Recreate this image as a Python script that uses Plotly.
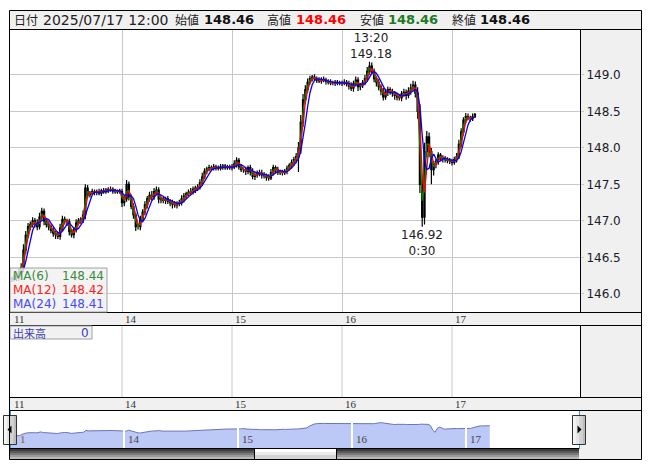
import plotly.graph_objects as go
import pandas as pd

W, H = 653, 470

# ---------------- data (30-minute candles) ----------------
DAY_LABELS = ["11", "14", "15", "16", "17"]
C11 = [146.20, 146.25, 146.22, 146.30, 146.36, 146.60, 146.80, 146.92, 146.95, 147.00, 146.97, 146.92,
       147.05, 147.13, 147.00, 146.95, 146.92, 146.87, 146.83, 146.81, 146.79, 146.90, 147.02, 147.00,
       146.99, 146.85, 146.81, 146.88, 146.97, 147.00, 147.02, 147.08, 147.45, 147.36, 147.38, 147.40,
       147.39, 147.40, 147.38, 147.41, 147.40, 147.42, 147.43, 147.43, 147.41, 147.40, 147.41, 147.40]
C14 = [147.25, 147.30, 147.50, 147.33, 147.20, 147.08, 146.92, 146.92, 147.02, 147.12, 147.22, 147.30,
       147.35, 147.33, 147.40, 147.42, 147.30, 147.29, 147.28, 147.30, 147.27, 147.25, 147.23, 147.22,
       147.24, 147.25, 147.30, 147.34, 147.37, 147.39, 147.40, 147.43, 147.45, 147.46, 147.52, 147.60,
       147.68, 147.71, 147.73, 147.72, 147.74, 147.73, 147.72, 147.74, 147.75, 147.73, 147.74, 147.73]
C15 = [147.74, 147.78, 147.83, 147.74, 147.70, 147.70, 147.68, 147.73, 147.67, 147.61, 147.63, 147.66,
       147.65, 147.63, 147.62, 147.60, 147.59, 147.66, 147.73, 147.70, 147.67, 147.66, 147.66, 147.68,
       147.72, 147.76, 147.80, 147.84, 147.88, 148.00, 148.35, 148.66, 148.80, 148.90, 148.95, 148.97,
       148.95, 148.93, 148.92, 148.94, 148.93, 148.91, 148.90, 148.89, 148.89, 148.90, 148.89, 148.89]
C16 = [148.89, 148.90, 148.88, 148.85, 148.82, 148.88, 148.93, 148.84, 148.86, 148.89, 148.95, 149.05,
       149.12, 149.05, 148.95, 148.90, 148.84, 148.78, 148.70, 148.76, 148.80, 148.77, 148.75, 148.72,
       148.70, 148.69, 148.74, 148.76, 148.72, 148.78, 148.82, 148.86, 148.75, 148.50, 147.50, 147.05,
       147.95, 148.15, 147.95, 147.70, 147.78, 147.82, 147.90, 147.86, 147.85, 147.84, 147.83, 147.82]
C17 = [147.80, 147.84, 147.88, 148.05, 148.22, 148.38, 148.43, 148.41, 148.40, 148.43, 148.46]

# upper / lower wick lengths in 0.01 (pips)
U11 = [3, 4, 3, 5, 6, 8, 6, 5, 4, 5, 4, 5, 6, 5, 4, 3, 4, 3, 4, 3, 4, 6, 5, 4,
       3, 4, 3, 4, 5, 4, 3, 6, 5, 4, 3, 4, 3, 3, 4, 3, 4, 3, 3, 4, 3, 3, 2, 3]
D11 = [4, 3, 5, 4, 5, 6, 5, 4, 5, 4, 6, 5, 4, 5, 6, 4, 5, 4, 5, 6, 4, 5, 4, 5,
       6, 5, 4, 5, 4, 3, 4, 5, 6, 5, 4, 3, 4, 4, 3, 4, 3, 3, 4, 3, 4, 3, 3, 3]
U14 = [4, 5, 6, 4, 3, 4, 3, 4, 5, 4, 5, 4, 5, 6, 5, 5, 4, 3, 4, 3, 4, 3, 4, 4,
       3, 4, 5, 4, 3, 4, 5, 4, 3, 4, 5, 6, 4, 3, 4, 3, 4, 3, 3, 4, 3, 3, 3, 3]
D14 = [6, 5, 4, 5, 4, 5, 6, 4, 5, 4, 4, 5, 4, 5, 4, 5, 6, 5, 4, 5, 4, 5, 6, 4,
       5, 4, 4, 5, 4, 3, 4, 4, 5, 4, 3, 4, 3, 4, 3, 4, 3, 4, 3, 3, 4, 3, 3, 3]
U15 = [4, 5, 4, 3, 4, 3, 4, 3, 4, 5, 4, 3, 4, 5, 4, 3, 4, 5, 4, 3, 4, 3, 4, 3,
       4, 3, 4, 4, 5, 8, 10, 8, 6, 5, 4, 3, 4, 3, 4, 3, 4, 3, 3, 4, 3, 3, 3, 3]
D15 = [4, 3, 5, 4, 3, 4, 5, 4, 5, 4, 5, 4, 4, 5, 4, 5, 4, 3, 4, 5, 4, 3, 4, 3,
       4, 3, 4, 4, 5, 21, 8, 6, 5, 4, 3, 4, 3, 4, 3, 4, 3, 4, 3, 3, 3, 4, 3, 3]
U16 = [3, 4, 3, 4, 5, 4, 5, 4, 3, 4, 5, 6, 6, 5, 4, 3, 4, 3, 4, 5, 4, 3, 4, 3,
       4, 3, 4, 5, 4, 5, 6, 6, 5, 8, 10, 8, 12, 8, 6, 5, 4, 3, 4, 3, 4, 4, 3, 3]
D16 = [4, 3, 4, 5, 4, 5, 4, 6, 5, 4, 3, 4, 5, 4, 5, 6, 5, 6, 5, 4, 5, 4, 5, 6,
       5, 4, 5, 4, 6, 4, 5, 4, 6, 10, 12, 13, 10, 8, 8, 20, 8, 6, 5, 4, 5, 4, 4, 4]
U17 = [3, 4, 5, 6, 5, 4, 5, 4, 3, 4, 2]
D17 = [4, 3, 4, 3, 4, 5, 4, 3, 4, 3, 2]

CLOSES = [C11, C14, C15, C16, C17]
UPS = [U11, U14, U15, U16, U17]
DNS = [D11, D14, D15, D16, D17]

HEADER_DATE = "2025/07/17 12:00"
HEADER_VALUES = {"始値": "148.46", "高値": "148.46", "安値": "148.46", "終値": "148.46"}
MA_LEGEND = [("MA(6)", "148.44"), ("MA(12)", "148.42"), ("MA(24)", "148.41")]
HIGH_MARK = (3, "13:20", 149.18)   # trading-day index, time, price
LOW_MARK = (3, "0:30", 146.92)
Y_TICKS = [146.0, 146.5, 147.0, 147.5, 148.0, 148.5, 149.0]
VOLUME_LABEL = ("出来高", "0")

DAY_START_HOUR = 7   # each trading day starts at 7:00
CANDLE_H = 0.5

# ---------------- build OHLC ----------------
xs, op, hi, lo, cl = [], [], [], [], []
prev = None
for d, (cc, uu, dd) in enumerate(zip(CLOSES, UPS, DNS)):
    for k, v in enumerate(cc):
        o = v if prev is None else prev
        xs.append(d * 24 + k * CANDLE_H)
        op.append(o)
        cl.append(v)
        hi.append(round(max(o, v) + uu[k] / 100, 2))
        lo.append(round(min(o, v) - dd[k] / 100, 2))
        prev = v

df = pd.DataFrame({"x": xs, "o": op, "h": hi, "l": lo, "c": cl})
mid = (df["o"] + df["c"]) / 2
df["ma6"] = mid.rolling(1, min_periods=1).mean()
df["ma12"] = mid.rolling(2, min_periods=1).mean()
df["ma24"] = mid.rolling(4, min_periods=1).mean()


def time_to_x(day, t):
    hh, mm = [int(s) for s in t.split(":")]
    hrs = hh + mm / 60 - DAY_START_HOUR
    if hrs < 0:
        hrs += 24
    return day * 24 + hrs


# ---------------- pixel geometry ----------------
L, R, RP = 10, 580, 641
TOP, HDR_B, MAIN_B, STR1_B, VOL_B, STR2_B, NAV_B, BOT = 10, 29, 312, 325, 397, 410, 448, 459
PX_PER_H = 110 / 24
X0_PX = 12
NAV_PX_PER_H = 114 / 24
NAV_X0 = 10
NAV_R = 579


def px(x):
    return x / W


def py(y):
    return 1 - y / H


fig = go.Figure()

fig.add_trace(go.Candlestick(
    x=df["x"], open=df["o"], high=df["h"], low=df["l"], close=df["c"],
    increasing=dict(line=dict(color="#000000", width=1.2), fillcolor="#000000"),
    decreasing=dict(line=dict(color="#000000", width=1.2), fillcolor="#000000"),
    whiskerwidth=0, showlegend=False, hoverinfo="skip", xaxis="x", yaxis="y"))
for col, color in [("ma6", "#008000"), ("ma12", "#ff0000"), ("ma24", "#0000ff")]:
    fig.add_trace(go.Scatter(x=df["x"], y=df[col], mode="lines",
                             line=dict(color=color, width=1.3), showlegend=False,
                             hoverinfo="skip", xaxis="x", yaxis="y"))

# navigator
fig.add_trace(go.Scatter(x=df["x"], y=df["c"], mode="lines", fill="tozeroy",
                         fillcolor="#bcc8f6", line=dict(color="#6c74b8", width=1),
                         showlegend=False, hoverinfo="skip", xaxis="x3", yaxis="y3"))

x_min = (L - X0_PX) / PX_PER_H
x_max = (R - X0_PX) / PX_PER_H
y_lo, y_hi = 145.75, 149.63

fig.update_layout(
    width=W, height=H, margin=dict(l=0, r=0, t=0, b=0),
    paper_bgcolor="#ffffff", plot_bgcolor="rgba(0,0,0,0)",
    xaxis=dict(domain=[px(L), px(R)], range=[x_min, x_max], anchor="y",
               tickmode="array", tickvals=[24, 48, 72, 96], showticklabels=False,
               showgrid=True, gridcolor="#c8c8c8", gridwidth=1, zeroline=False,
               showline=False, ticks="", rangeslider=dict(visible=False), fixedrange=True),
    yaxis=dict(domain=[py(MAIN_B), py(HDR_B)], range=[y_lo, y_hi], anchor="x", side="right",
               tickmode="array", tickvals=Y_TICKS, ticktext=[f"{v:.1f}" for v in Y_TICKS],
               showgrid=True, gridcolor="#c8c8c8", gridwidth=1, zeroline=False,
               ticks="outside", ticklen=3, tickcolor="#c8c8c8", showline=False,
               tickfont=dict(family="DejaVu Sans", size=12, color="#1a1a2a"), fixedrange=True),
    xaxis3=dict(domain=[px(NAV_X0), px(NAV_R)], range=[0, (NAV_R - NAV_X0) / NAV_PX_PER_H],
                anchor="y3", visible=False, fixedrange=True),
    yaxis3=dict(domain=[py(NAV_B), py(STR2_B + 1)], range=[143.7, 151.6], anchor="x3",
                visible=False, fixedrange=True),
)

shapes = []


def rect(x0, y0, x1, y1, fill=None, line=None, lw=1, layer="below", opacity=1):
    shapes.append(dict(type="rect", xref="paper", yref="paper",
                       x0=px(x0), x1=px(x1), y0=py(y1), y1=py(y0), layer=layer,
                       opacity=opacity,
                       line=dict(width=lw if line else 0, color=line or "rgba(0,0,0,0)"),
                       fillcolor=fill or "rgba(0,0,0,0)"))


def seg(x0, y0, x1, y1, color="#000000", lw=1, layer="above"):
    shapes.append(dict(type="line", xref="paper", yref="paper",
                       x0=px(x0), x1=px(x1), y0=py(y0), y1=py(y1), layer=layer,
                       line=dict(color=color, width=lw)))


GRAY = "#f0f0f0"
rect(L, TOP, RP, HDR_B, fill=GRAY)
rect(R, HDR_B, RP, MAIN_B, fill=GRAY)
rect(L, MAIN_B, RP, STR1_B, fill=GRAY)
rect(R, STR1_B, RP, VOL_B, fill=GRAY)
rect(L, VOL_B, RP, STR2_B, fill=GRAY)
rect(NAV_R, STR2_B, RP, BOT, fill=GRAY)

# volume panel day grid lines
for d in range(1, 5):
    xp = X0_PX + d * 24 * PX_PER_H
    seg(xp, STR1_B, xp, VOL_B, color="#c8c8c8", layer="below")

# navigator day separators
for d in range(1, 5):
    xp = NAV_X0 + d * 24 * NAV_PX_PER_H
    seg(xp, STR2_B + 1, xp, NAV_B, color="#ffffff", lw=2)

# panel border lines
for yy in [HDR_B, MAIN_B, STR1_B, VOL_B, STR2_B]:
    seg(L, yy + 0.5, RP, yy + 0.5)
seg(R + 0.5, HDR_B, R + 0.5, MAIN_B)
seg(R + 0.5, STR1_B, R + 0.5, VOL_B)

# navigator edges (cyan)
for xx in [L + 0.5, NAV_R + 0.5]:
    seg(xx, STR2_B + 1, xx, 415, color="#1fa0d0")
    seg(xx, 444, xx, NAV_B + 1, color="#1fa0d0")

# scrollbar with gradient
sb = [("#3c3c3c", 449, 451), ("#5a5a5a", 451, 453), ("#7a7a7a", 453, 455),
      ("#9a9a9a", 455, 457), ("#b8b8b8", 457, 459)]
for col, a, b in sb:
    rect(L, a, NAV_R, b, fill=col, layer="above")
seg(L, 448.5, NAV_R, 448.5)
th = [("#ffffff", 449, 452), ("#ececec", 452, 455), ("#d4d4d4", 455, 459)]
for col, a, b in th:
    rect(255, a, 336, b, fill=col, layer="above")
seg(254.5, 449, 254.5, 459)
seg(336.5, 449, 336.5, 459)

# navigator buttons
for bx0, bx1, direction in [(3, 17, -1), (572, 586, 1)]:
    w = bx1 - bx0
    for i, col in enumerate(["#f6f6f6", "#e6e6e6", "#d2d2d2", "#bcbcbc"]):
        rect(bx0 + i * w / 4, 415, bx0 + (i + 1) * w / 4, 444, fill=col, layer="above")
    rect(bx0 + 0.5, 415.5, bx1 - 0.5, 444.5, line="#333333", layer="above")
    cx, cy = (bx0 + bx1) / 2, 429.5
    if direction < 0:
        pts = [(cx - 2.5, cy), (cx + 1.5, cy - 4), (cx + 1.5, cy + 4)]
    else:
        pts = [(cx + 2.5, cy), (cx - 1.5, cy - 4), (cx - 1.5, cy + 4)]
    path = "M " + " L ".join(f"{px(a)},{py(b)}" for a, b in pts) + " Z"
    shapes.append(dict(type="path", xref="paper", yref="paper", path=path,
                       fillcolor="#000000", line=dict(width=0), layer="above"))

# legend boxes
rect(L, 268, 107, MAIN_B, fill="rgba(240,240,240,0.82)", line="#a0a0a0", layer="above")
rect(L, STR1_B + 1, 92, 339, fill="rgba(240,240,240,0.9)", line="#a0a0a0", layer="above")

# outer frame
rect(L - 0.5, TOP + 0.5, RP + 0.5, BOT + 0.5, line="#000000", layer="above")

fig.update_layout(shapes=shapes)

ann = []


def text(x, y, s, size=12, color="#222222", family="DejaVu Sans", xanchor="left", bold=False):
    ann.append(dict(xref="paper", yref="paper", x=px(x), y=py(y), text=f"<b>{s}</b>" if bold else s,
                    showarrow=False, xanchor=xanchor, yanchor="middle",
                    font=dict(family=family, size=size, color=color)))


CJK = "Noto Sans CJK JP"
HY = 19.5
text(12, HY, "日付", size=12, family=CJK)
text(41, HY, HEADER_DATE, size=14)
hx = [(173, 202), (265, 294), (358, 386), (450, 478)]
hcol = ["#111111", "#ff0000", "#1e7b1e", "#111111"]
for (lab, val), (xl, xv), col in zip(HEADER_VALUES.items(), hx, hcol):
    text(xl, HY, lab, size=12, family=CJK)
    text(xv, HY, val, size=13, color=col, bold=True)

# MA legend
ma_cols = ["#3b8b3b", "#ff2020", "#4848ff"]
for i, ((lab, val), col) in enumerate(zip(MA_LEGEND, ma_cols)):
    yy = 275.5 + i * 14.3
    text(11, yy, lab, size=12, color=col)
    text(106, yy, val, size=12, color=col, xanchor="right")

# volume label
text(11, 333, VOLUME_LABEL[0], size=11, color="#3c3cb4", family=CJK)
text(91, 333, VOLUME_LABEL[1], size=12, color="#3c3cb4", xanchor="right")

# date strips
for d, lab in enumerate(DAY_LABELS):
    xp = X0_PX + d * 24 * PX_PER_H + 1
    for yy in [318.5, 403.5]:
        text(xp - 1 if d == 0 else xp, yy, lab, size=11, color="#333333", family="Liberation Serif")
# navigator day labels
for d, lab in enumerate(DAY_LABELS):
    xp = NAV_X0 + d * 24 * NAV_PX_PER_H + 2
    if d == 0:
        text(18, 438.5, lab[-1], size=11, color="#8a5a20", family="Liberation Serif")
    else:
        text(xp, 438.5, lab, size=11, color="#444444", family="Liberation Serif")

# high / low marks
hd, ht, hp = HIGH_MARK
ann.append(dict(xref="x", yref="y", x=time_to_x(hd, ht), y=hp, text=f"{ht}<br>{hp:.2f}",
                showarrow=False, xanchor="center", yanchor="bottom", yshift=-1,
                font=dict(family="DejaVu Sans", size=12, color="#222222")))
ld, lt, lp = LOW_MARK
ann.append(dict(xref="x", yref="y", x=time_to_x(ld, lt), y=lp, text=f"{lp:.2f}<br>{lt}",
                showarrow=False, xanchor="center", yanchor="top", yshift=1,
                font=dict(family="DejaVu Sans", size=12, color="#222222")))

fig.update_layout(annotations=ann)
fig.write_html("out.html", config={"displayModeBar": False},
               post_script="document.body.style.margin='0';")
